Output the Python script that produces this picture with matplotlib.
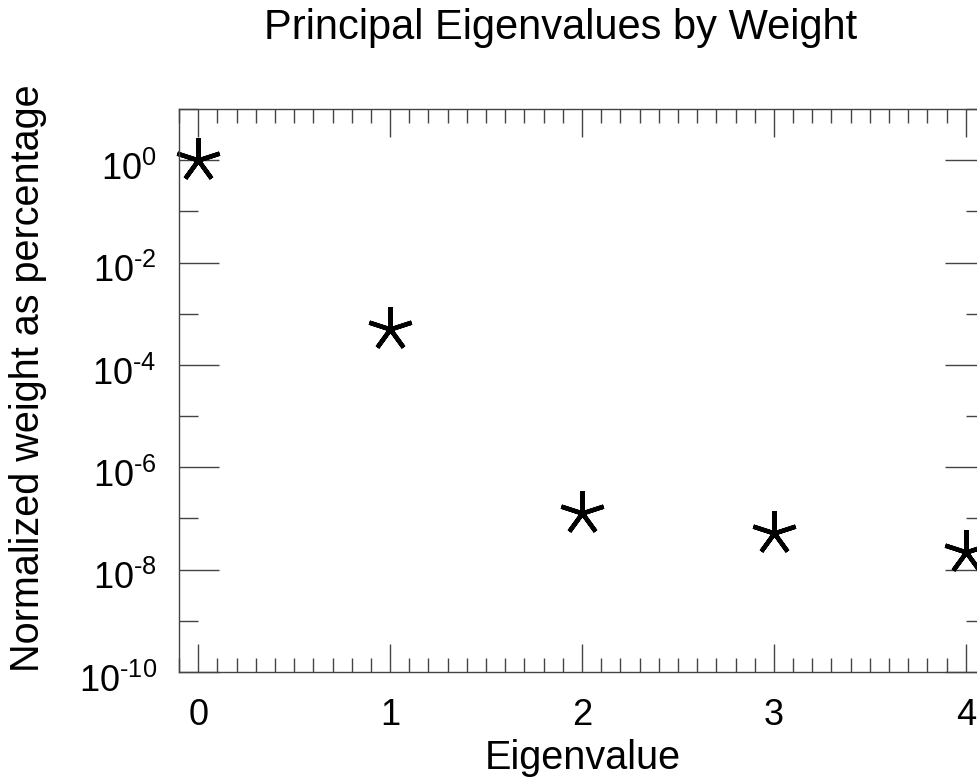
import numpy as np
import matplotlib
matplotlib.use("Agg")
import matplotlib.pyplot as plt
import matplotlib.transforms as mtransforms
from matplotlib.ticker import FixedLocator, FixedFormatter

plt.rcParams['font.family'] = ['Liberation Sans', 'DejaVu Sans']
plt.rcParams['mathtext.fontset'] = 'custom'
plt.rcParams['mathtext.rm'] = 'Liberation Sans'
plt.rcParams['mathtext.it'] = 'Liberation Sans'
plt.rcParams['mathtext.default'] = 'rm'

# eigenvalue index and normalized weight (percent)
eigen_index = [0, 1, 2, 3, 4]
weight_pct = [1.0, 5.1e-4, 1.25e-7, 5.3e-8, 2.2e-8]

major_exp = [0, -2, -4, -6, -8, -10]
minor_exp = [1, -1, -3, -5, -7, -9]
x_ticks = [0, 1, 2, 3, 4]


def exp_label(e):
    # short hyphen for the sign, as on old plotting devices
    s = str(abs(e))
    if e < 0:
        s = '\u2010' + s
    return r'$10^{%s}$' % s


W, H = 977, 781
fig = plt.figure(figsize=(W / 100, H / 100), dpi=100)
ax = fig.add_axes([179 / W, 1 - 672 / H, (985 - 179) / W, (672 - 109) / H])

ax.plot(eigen_index, weight_pct, linestyle='none', marker=(5, 2, 0),
        markersize=32, markeredgewidth=3.2, color='black', clip_on=False)

ax.set_yscale('log')
ax.set_xlim(-0.1, 4.1)
ax.set_ylim(1e-10, 1e1)

ax.xaxis.set_major_locator(FixedLocator(x_ticks))
ax.xaxis.set_major_formatter(FixedFormatter([str(v) for v in x_ticks]))
ax.xaxis.set_minor_locator(FixedLocator(np.arange(-0.1, 4.11, 0.1)))

ax.yaxis.set_major_locator(FixedLocator([10.0 ** e for e in major_exp]))
ax.yaxis.set_major_formatter(FixedFormatter([exp_label(e) for e in major_exp]))
ax.yaxis.set_minor_locator(FixedLocator([10.0 ** e for e in minor_exp]))
ax.yaxis.set_minor_formatter(FixedFormatter([''] * len(minor_exp)))

edge = '#444444'
for s in ax.spines.values():
    s.set_color(edge)
    s.set_linewidth(1.0)

ax.tick_params(which='both', direction='in', top=True, right=True,
               color=edge, width=1.0)
ax.tick_params(axis='x', which='major', length=20, pad=19, labelsize=26)
ax.tick_params(axis='x', which='minor', length=10)
ax.tick_params(axis='y', which='major', length=29, pad=16, labelsize=26)
ax.tick_params(axis='y', which='minor', length=14)

# y labels sit a little below their ticks
shift = mtransforms.ScaledTranslation(0, -4 / 72, fig.dpi_scale_trans)
for lbl in ax.yaxis.get_majorticklabels():
    lbl.set_transform(lbl.get_transform() + shift)

fig.text(583 / W, 1 - 769 / H, 'Eigenvalue', fontsize=28.5,
         ha='center', va='baseline')
fig.text(28 / W, 1 - 378 / H, 'Normalized weight as percentage',
         fontsize=28.5, rotation=90, ha='center', va='center')
fig.text(561 / W, 1 - 39 / H, 'Principal Eigenvalues by Weight',
         fontsize=30, ha='center', va='baseline')

fig.savefig('out.png', dpi=100)
